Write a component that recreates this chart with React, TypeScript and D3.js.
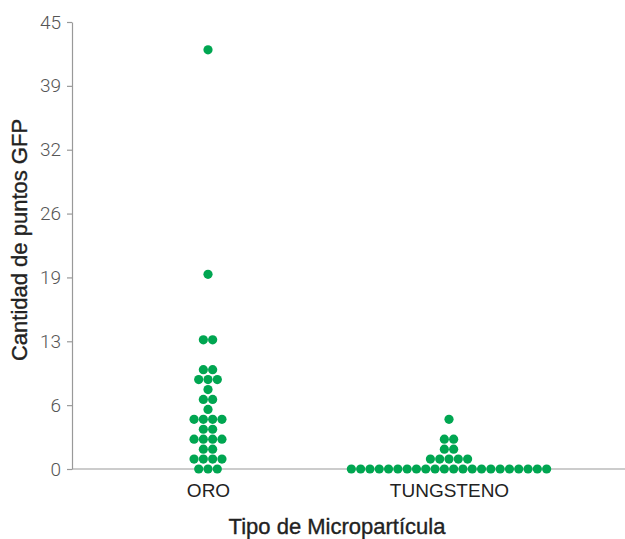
import React from 'react';
import * as d3 from 'd3';

// values per particle type (GFP spot counts)
const categories = ['ORO', 'TUNGSTENO'];
const oroValues = [
	0, 0, 0, 1, 1, 1, 1, 2, 2, 3, 3, 3, 3, 4, 4, 5, 5, 5, 5, 6, 7, 7, 8, 9, 9, 9, 10, 10, 13, 13, 19.6, 42.2,
];
const tungstenoValues = [
	0, 0, 0, 0, 0, 0, 0, 0, 0, 0, 0, 0, 0, 0, 0, 0, 0, 0, 0, 0, 0, 0, 1, 1, 1, 1, 1, 2, 2, 3, 3, 5,
];
const yTickValues = [0, 45 / 7, 90 / 7, 135 / 7, 180 / 7, 225 / 7, 270 / 7, 45];
const yTitle = 'Cantidad de puntos GFP';
const xTitle = 'Tipo de Micropartícula';

const useD3 = (renderChartFn, dependencies) => {
	const ref = React.useRef(null);
	React.useEffect(() => {
		renderChartFn(d3.select(ref.current));
		return () => {};
	}, dependencies);
	return ref;
};

function Chart() {
	const ref = useD3((svg) => {
		const width = 625;
		const height = 539;
		const margin = { top: 22, right: 0, bottom: 70, left: 72 };
		const font = "'Helvetica Neue', 'Liberation Sans', Arial, sans-serif";
		const lightFont = "Roboto, 'Liberation Sans', Arial, sans-serif";
		const dotGap = 9.3;
		const r = 4.6;

		svg.selectAll('*').remove();

		const x = d3
			.scalePoint()
			.domain(categories)
			.range([208, 449]);

		const y = d3
			.scaleLinear()
			.domain([0, 45])
			.range([height - margin.bottom, margin.top]);

		// y axis
		const yAxis = svg
			.append('g')
			.attr('transform', `translate(${margin.left},0)`)
			.call(
				d3
					.axisLeft(y)
					.tickValues(yTickValues)
					.tickFormat(d3.format('.0f'))
					.tickSize(5)
					.tickSizeOuter(0)
					.tickPadding(6)
			);
		yAxis.select('.domain').attr('stroke', '#999').attr('stroke-width', 1.2);
		yAxis.selectAll('.tick line').attr('stroke', '#999').attr('stroke-width', 1.2);
		yAxis
			.selectAll('.tick text')
			.attr('fill', '#555')
			.attr('font-family', lightFont)
			.attr('font-weight', 300)
			.attr('font-size', 19);

		// x axis
		const xAxis = svg
			.append('g')
			.attr('transform', `translate(0,${y(0)})`)
			.call(d3.axisBottom(x).tickSize(0).tickPadding(15));
		xAxis
			.select('.domain')
			.attr('d', `M${margin.left},0H${width - margin.right}`)
			.attr('stroke', '#999')
			.attr('stroke-width', 1.2);
		xAxis
			.selectAll('.tick text')
			.attr('fill', '#222')
			.attr('font-family', font)
			.attr('font-size', 19);

		// dots, stacked side by side for equal values
		const series = [
			{ cat: 'ORO', values: oroValues },
			{ cat: 'TUNGSTENO', values: tungstenoValues },
		];
		const dots = [];
		series.forEach((s) => {
			const groups = d3.group(s.values, (v) => v);
			groups.forEach((vals, v) => {
				vals.forEach((_, i) => {
					dots.push({
						cx: x(s.cat) + (i - (vals.length - 1) / 2) * dotGap,
						cy: y(v),
					});
				});
			});
		});

		svg
			.append('g')
			.attr('fill', '#00a651')
			.selectAll('circle')
			.data(dots)
			.join('circle')
			.attr('cx', (d) => d.cx)
			.attr('cy', (d) => d.cy)
			.attr('r', r);

		// titles (a thin stroke gives the medium weight of the original)
		svg
			.append('text')
			.attr('transform', 'translate(27,240)rotate(-90)')
			.attr('text-anchor', 'middle')
			.attr('font-family', font)
			.attr('font-size', 22)
			.attr('fill', '#222')
			.attr('stroke', '#222')
			.attr('stroke-width', 0.35)
			.text(yTitle);

		svg
			.append('text')
			.attr('x', 337)
			.attr('y', 534)
			.attr('text-anchor', 'middle')
			.attr('font-family', font)
			.attr('font-size', 22)
			.attr('fill', '#222')
			.attr('stroke', '#222')
			.attr('stroke-width', 0.35)
			.text(xTitle);
	}, []);

	return (
		<svg
			ref={ref}
			width={625}
			height={539}
			style={{ position: 'absolute', left: 0, top: 0, background: '#fff' }}
		/>
	);
}

export default function App() {
	return <Chart />;
}
